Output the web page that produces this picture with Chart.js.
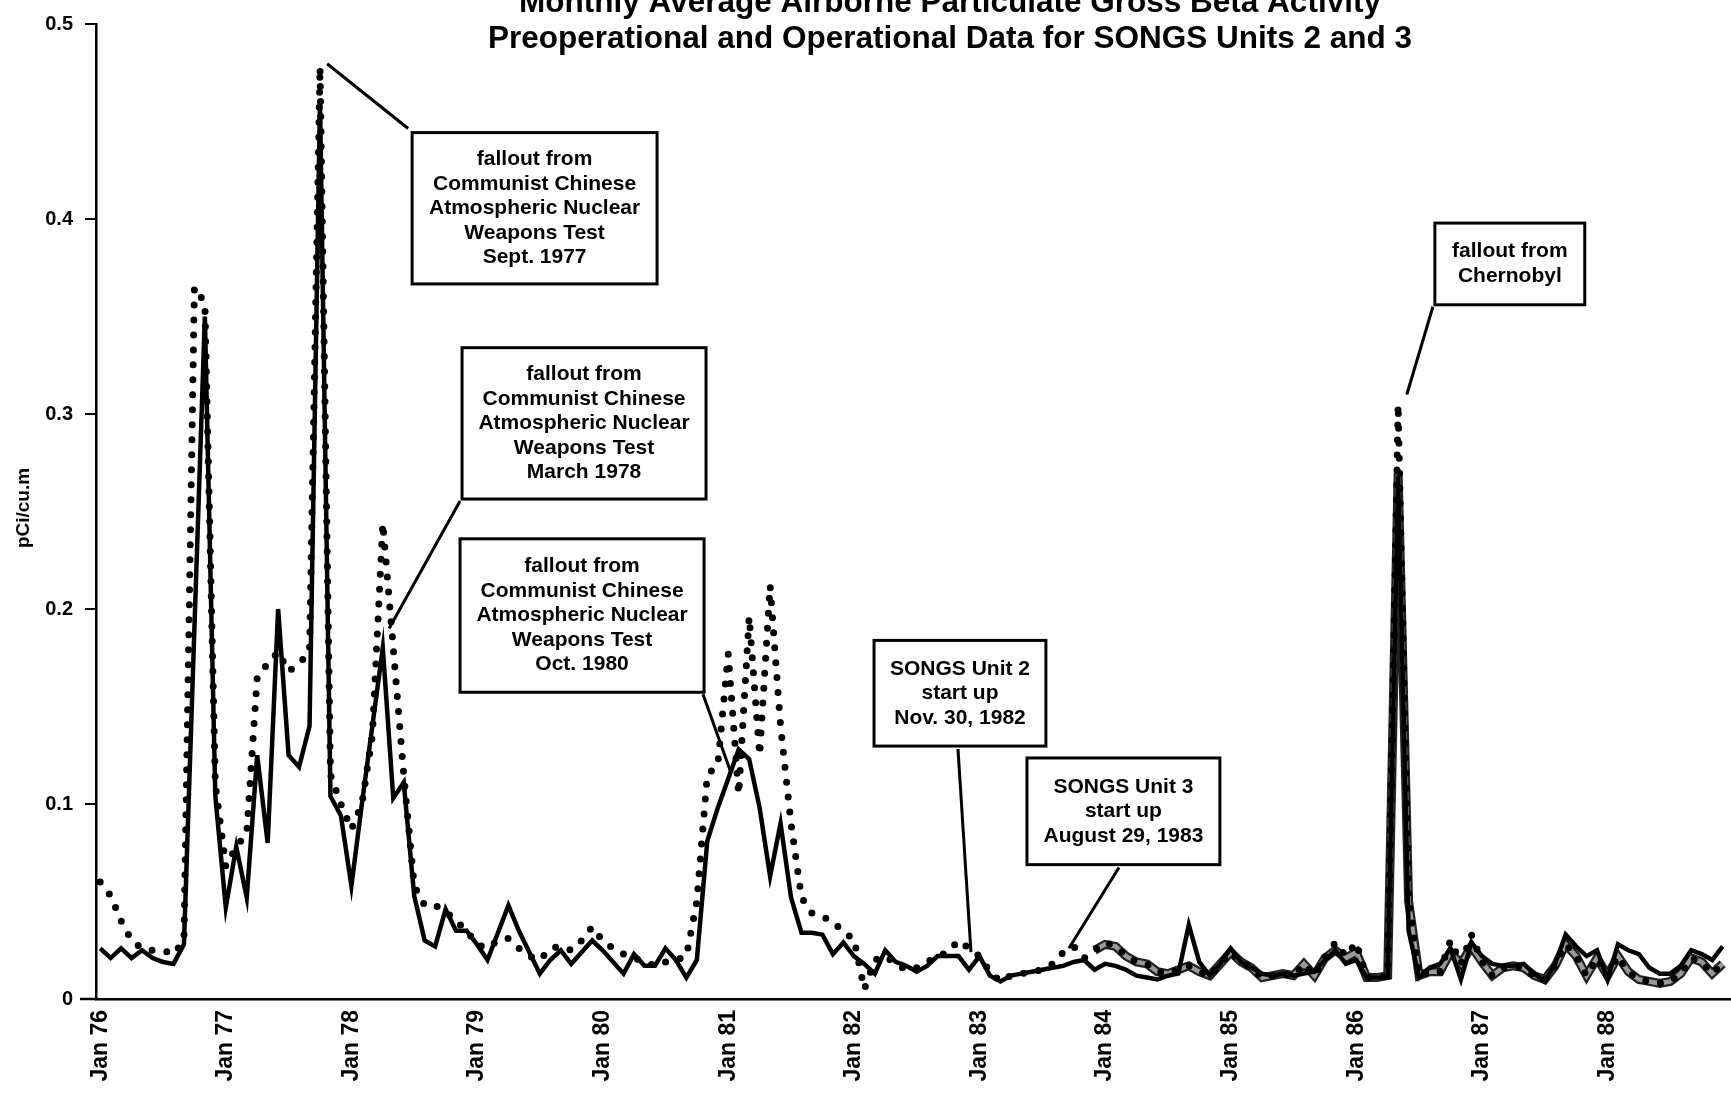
<!DOCTYPE html>
<html><head><meta charset="utf-8">
<script src="https://cdn.jsdelivr.net/npm/chart.js@4.4.1/dist/chart.umd.min.js"></script>
<style>html,body{margin:0;padding:0;background:#fff;overflow:hidden}canvas{display:block}</style>
</head><body>
<canvas id="c" width="1731" height="1095"></canvas>
<script>
// Monthly values, Jan 1976 (index 0) through Dec 1988 (index 155)
const titleLines = ['Monthly Average Airborne Particulate Gross Beta Activity',
                    'Preoperational and Operational Data for SONGS Units 2 and 3'];
const yTitle = 'pCi/cu.m';
const yearTickLabels = ['Jan 76','Jan 77','Jan 78','Jan 79','Jan 80','Jan 81','Jan 82',
                        'Jan 83','Jan 84','Jan 85','Jan 86','Jan 87','Jan 88'];
const yTickLabels = ['0','0.1','0.2','0.3','0.4','0.5'];

// solid black series
const solidSeries = [
 0.026,0.021,0.026,0.021,0.025,0.021,0.019,0.018,0.028,0.190,
 0.350,0.104,0.047,0.078,0.052,0.125,0.080,0.200,0.125,0.119,
 0.140,0.460,0.104,0.094,0.058,0.100,0.140,0.180,0.103,0.111,
 0.053,0.030,0.027,0.046,0.035,0.035,0.028,0.020,0.034,0.048,
 0.035,0.024,0.013,0.020,0.025,0.018,0.024,0.030,0.025,0.019,
 0.013,0.023,0.017,0.017,0.026,0.020,0.011,0.020,0.081,0.098,
 0.113,0.128,0.123,0.098,0.063,0.090,0.052,0.034,0.034,0.033,
 0.023,0.029,0.022,0.018,0.013,0.025,0.019,0.017,0.014,0.017,
 0.022,0.022,0.022,0.015,0.022,0.012,0.009,0.012,0.013,0.014,
 0.015,0.016,0.017,0.019,0.020,0.015,0.018,0.017,0.015,0.012,
 0.011,0.010,0.012,0.013,0.038,0.019,0.012,0.018,0.026,0.019,
 0.016,0.013,0.012,0.013,0.012,0.013,0.014,0.020,0.025,0.018,
 0.020,0.011,0.011,0.011,0.268,0.035,0.011,0.016,0.018,0.026,
 0.010,0.029,0.022,0.018,0.017,0.017,0.018,0.013,0.009,0.018,
 0.033,0.027,0.022,0.025,0.010,0.028,0.025,0.023,0.016,0.013,
 0.013,0.017,0.025,0.023,0.020,0.027];

// dotted series
const dottedSeries = [
 0.060,0.053,0.040,0.030,0.026,0.025,0.025,0.023,0.030,0.365,
 0.357,0.110,0.068,0.078,0.085,0.165,0.172,0.178,0.168,0.172,
 0.178,0.478,0.115,0.100,0.087,0.100,0.135,0.244,0.180,0.115,
 0.058,0.048,0.048,0.045,0.040,0.035,0.028,0.026,0.030,0.031,
 0.026,0.022,0.020,0.026,0.027,0.025,0.030,0.037,0.030,0.026,
 0.023,0.021,0.019,0.017,0.019,0.020,0.022,0.050,0.115,0.120,
 0.177,0.105,0.196,0.125,0.212,0.140,0.090,0.052,0.044,0.042,
 0.040,0.034,0.031,0.005,0.020,0.022,0.018,0.015,0.016,0.019,
 0.022,0.024,0.030,0.026,0.022,0.014,0.009,0.012,0.013,0.014,
 0.015,0.018,0.024,0.027,0.021,0.025,0.029,0.027,0.022,0.019,
 0.018,0.014,0.013,0.015,0.017,0.014,0.012,0.018,0.024,0.019,
 0.016,0.011,0.012,0.013,0.012,0.018,0.012,0.021,0.029,0.022,
 0.029,0.011,0.011,0.012,0.305,0.050,0.012,0.014,0.014,0.030,
 0.018,0.033,0.019,0.012,0.016,0.017,0.016,0.012,0.010,0.017,
 0.028,0.022,0.012,0.021,0.012,0.022,0.014,0.010,0.009,0.008,
 0.009,0.013,0.021,0.019,0.013,0.018];

// grey series, starts Dec 1983 (index 95)
const greyStart = 95;
const greySeries = [
 0.025,0.028,0.027,0.022,0.019,0.018,0.014,0.013,0.015,0.017,
 0.014,0.012,0.018,0.024,0.019,0.016,0.011,0.012,0.013,0.012,
 0.018,0.012,0.021,0.025,0.021,0.024,0.011,0.011,0.012,0.270,
 0.050,0.012,0.014,0.014,0.024,0.018,0.027,0.019,0.012,0.016,
 0.017,0.016,0.012,0.010,0.017,0.028,0.022,0.012,0.021,0.012,
 0.022,0.014,0.010,0.009,0.008,0.009,0.013,0.021,0.019,0.013,
 0.018];

const annotations = [
 {lines:['fallout from','Communist Chinese','Atmospheric Nuclear','Weapons Test','Sept. 1977'],
  box:[29.80,53.20,0.4443,0.3667], from:[29.42,0.4464], to:[21.68,0.4796]},
 {lines:['fallout from','Communist Chinese','Atmospheric Nuclear','Weapons Test','March 1978'],
  box:[34.57,57.88,0.3340,0.2564], from:[34.38,0.2554], to:[27.60,0.1900]},
 {lines:['fallout from','Communist Chinese','Atmospheric Nuclear','Weapons Test','Oct. 1980'],
  box:[34.38,57.69,0.2360,0.1573], from:[57.59,0.1563], to:[60.27,0.1159]},
 {lines:['SONGS Unit 2','start up','Nov. 30, 1982'],
  box:[73.93,90.35,0.1839,0.1297], from:[81.95,0.1282], to:[83.19,0.0240]},
 {lines:['SONGS Unit 3','start up','August 29, 1983'],
  box:[88.54,106.97,0.1236,0.0689], from:[97.33,0.0674], to:[92.55,0.0260]},
 {lines:['fallout from','Chernobyl'],
  box:[127.51,141.83,0.3979,0.3560], from:[127.32,0.3550], to:[124.83,0.3100]}
];

const toPts = arr => arr.map((v,i)=>({x:i, y:v}));
const greyPts = greySeries.map((v,i)=>({x:i+greyStart, y:v}));

const FONT = "'Liberation Sans', Arial, Helvetica, sans-serif";

const overlay = {
  id:'overlay',
  afterDraw(chart){
    const {ctx, scales:{x,y}} = chart;
    ctx.save();
    const y0 = y.getPixelForValue(0);
    ctx.strokeStyle='#000'; ctx.lineWidth=2.5;
    ctx.beginPath(); ctx.moveTo(80,y0); ctx.lineTo(x.left,y0); ctx.stroke();
    ctx.fillStyle='#000';
    ctx.font = "bold 31.5px " + FONT;
    ctx.textAlign='center'; ctx.textBaseline='alphabetic';
    ctx.fillText(titleLines[0], 950, 12);
    ctx.fillText(titleLines[1], 950, 48);
    ctx.save();
    ctx.translate(24, 508); ctx.rotate(-Math.PI/2);
    ctx.font = "bold 19px " + FONT; ctx.textBaseline='middle';
    ctx.fillText(yTitle, 0, 0);
    ctx.restore();
    for (const a of annotations){
      const l=x.getPixelForValue(a.box[0]), r=x.getPixelForValue(a.box[1]);
      const t=y.getPixelForValue(a.box[2]), b=y.getPixelForValue(a.box[3]);
      ctx.lineWidth=3; ctx.strokeStyle='#000';
      ctx.beginPath();
      ctx.moveTo(x.getPixelForValue(a.from[0]), y.getPixelForValue(a.from[1]));
      ctx.lineTo(x.getPixelForValue(a.to[0]), y.getPixelForValue(a.to[1]));
      ctx.stroke();
      ctx.fillStyle='#fff'; ctx.fillRect(l,t,r-l,b-t);
      ctx.strokeRect(l,t,r-l,b-t);
      ctx.fillStyle='#000'; ctx.font="bold 21px " + FONT;
      ctx.textAlign='center'; ctx.textBaseline='middle';
      const cx=(l+r)/2, cy=(t+b)/2, lh=24.5;
      a.lines.forEach((s,i)=>ctx.fillText(s, cx, cy+(i-(a.lines.length-1)/2)*lh));
    }
    ctx.restore();
  }
};

new Chart(document.getElementById('c'), {
  type:'line',
  data:{datasets:[
    {label:'solid', data:toPts(solidSeries), borderColor:'#000', borderWidth:4.5,
     pointRadius:0, tension:0, borderJoinStyle:'miter'},
    {label:'dotted', data:toPts(dottedSeries), borderColor:'#000', borderWidth:7,
     borderDash:[0,15], borderCapStyle:'round', pointRadius:0, tension:0},
    {label:'grey', data:greyPts, borderColor:'#9a9a9a', borderWidth:4.5,
     pointRadius:0, tension:0},
    {label:'grey edge', data:greyPts, borderColor:'#222', borderWidth:9,
     pointRadius:0, tension:0}
  ]},
  options:{
    responsive:false, animation:false, devicePixelRatio:1,
    layout:{padding:{top:20,right:0,left:0,bottom:0}},
    plugins:{legend:{display:false}, tooltip:{enabled:false}, title:{display:false}},
    scales:{
      x:{type:'linear', min:-0.4, max:155.8,
         afterFit: s=>{ s.height=96; },
         afterBuildTicks: s=>{ s.ticks = yearTickLabels.map((_,i)=>({value:i*12})); },
         grid:{display:false, drawTicks:false},
         border:{display:true, color:'#000', width:2.5},
         ticks:{autoSkip:false, minRotation:90, maxRotation:90, padding:11, color:'#000',
                font:{family:FONT, weight:'bold', size:23},
                callback:(v)=> yearTickLabels[Math.round(v/12)]}
      },
      y:{type:'linear', min:0, max:0.5,
         afterFit: s=>{ s.width=96; },
         afterBuildTicks: s=>{ s.ticks = yTickLabels.map((_,i)=>({value:i*0.1})); },
         grid:{display:true, drawOnChartArea:false, drawTicks:true, tickLength:11, color:'#000', lineWidth:2},
         border:{display:true, color:'#000', width:2.5},
         ticks:{padding:12, color:'#000', font:{family:FONT, weight:'bold', size:20},
                callback:(v,i)=> yTickLabels[i]}
      }
    }
  },
  plugins:[overlay]
});
</script>
</body></html>
